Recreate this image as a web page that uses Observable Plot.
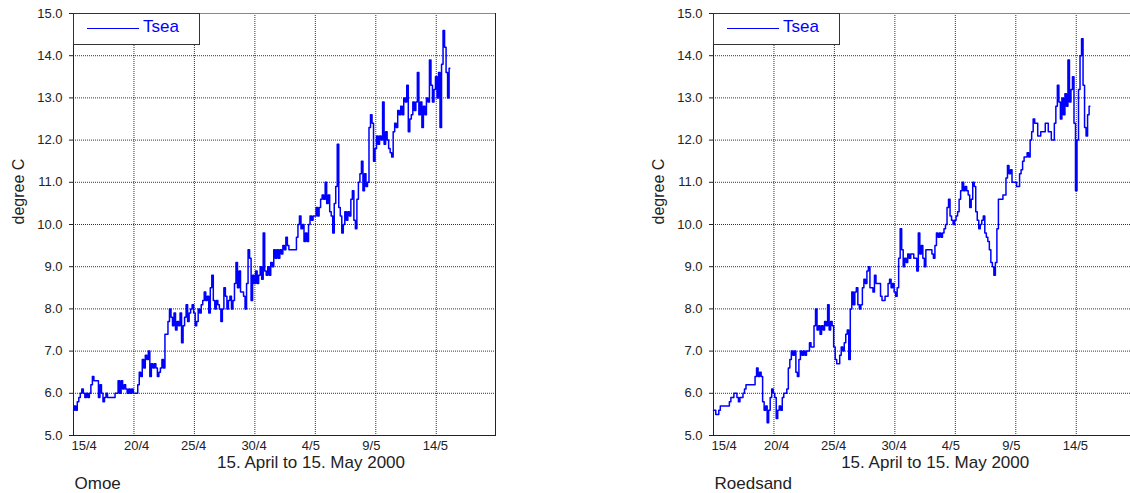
<!DOCTYPE html>
<html><head><meta charset="utf-8">
<script src="https://cdn.jsdelivr.net/npm/d3@7"></script>
<script src="https://cdn.jsdelivr.net/npm/@observablehq/plot@0.6"></script>
<style>
html,body{margin:0;padding:0;background:#fff;overflow:hidden;width:1130px;height:493px}
.panel{position:absolute;top:0;height:493px}
.panel svg{max-width:none !important}
.legend{position:absolute;box-sizing:border-box;background:#fff;border:1px solid #333;width:127px;height:32px;top:13px}
.legend .ln{position:absolute;left:13px;top:14px;width:52px;border-top:1px solid #0000ff}
.legend .tx{position:absolute;left:69px;top:3px;font:17px 'Liberation Sans',Arial,sans-serif;line-height:20px;color:#0000ff}
</style></head><body>
<div id="p0" class="panel" style="left:0;width:565px"></div>
<div id="p1" class="panel" style="left:565px;width:575px"></div>
<script>
// ---- data (3-hourly samples from 15/4 00:00) ----
const sampleHours = 3;
const stations = ["Omoe", "Roedsand"];
const seriesName = "Tsea";
const yTitle = "degree C";
const xAxisTitle = "15. April to 15. May 2000";
const xTickDays = [0, 5, 10, 15, 20, 25, 30];
const xTickLabels = ["15/4", "20/4", "25/4", "30/4", "4/5", "9/5", "14/5"];
const yTicks = [5, 6, 7, 8, 9, 10, 11, 12, 13, 14, 15];

const omoeTemp = [
  5.6, 5.7, 5.6, 5.8, 5.9, 6.0, 6.1, 6.0,
  5.9, 6.0, 5.9, 6.0, 6.2, 6.4, 6.3, 6.3,
  6.3, 5.9, 6.2, 6.0, 5.8, 5.9, 6.0, 5.9,
  5.9, 5.9, 5.9, 5.9, 6.0, 6.0, 6.3, 6.0,
  6.3, 6.1, 6.2, 6.1, 6.0, 6.1, 6.0, 6.1,
  6.0, 6.0, 6.0, 6.2, 6.5, 6.4, 6.8, 6.6,
  6.9, 6.8, 7.0, 6.4, 6.7, 6.6, 6.7, 6.6,
  6.4, 6.5, 6.6, 6.8, 6.6, 7.4, 7.4, 7.7,
  8.0, 7.8, 7.6, 7.9, 7.5, 7.7, 7.6, 7.9,
  7.2, 7.6, 7.8, 8.1, 7.7, 7.9, 8.0, 8.1,
  7.9, 7.6, 7.7, 8.0, 7.9, 8.1, 8.2, 8.4,
  8.2, 8.3, 7.9, 8.5, 8.8, 8.2, 8.0, 8.2,
  8.1, 8.0, 7.7, 8.0, 8.5, 8.3, 8.0, 8.2,
  8.3, 8.0, 8.2, 8.6, 9.1, 8.5, 8.9, 8.4,
  8.4, 8.3, 8.0, 8.6, 9.4, 9.2, 8.2, 8.8,
  8.6, 8.9, 8.6, 8.8, 9.0, 8.7, 9.8, 8.9,
  8.8, 9.0, 8.8, 9.1, 9.0, 9.4, 9.2, 9.4,
  9.2, 9.4, 9.3, 9.5, 9.4, 9.7, 9.5, 9.4,
  9.4, 9.4, 9.4, 9.4, 9.7, 10.0, 10.2, 9.9,
  10.0, 9.6, 9.8, 9.6, 10.0, 10.2, 10.1, 10.2,
  10.2, 10.4, 10.2, 10.4, 10.6, 10.7, 10.6, 11.0,
  10.5, 10.7, 10.3, 10.2, 9.8, 10.5, 10.9, 11.9,
  10.4, 10.2, 9.8, 10.0, 10.3, 10.1, 10.3, 10.2,
  10.6, 10.8, 10.1, 9.9, 10.6, 11.0, 11.2, 11.5,
  10.8, 11.2, 10.9, 11.0, 12.3, 12.6, 12.4, 11.5,
  11.8, 12.1, 11.9, 12.1, 12.0, 12.9, 11.9, 12.2,
  12.0, 11.8, 11.7, 11.6, 12.2, 12.4, 12.3, 12.7,
  12.6, 12.8, 12.6, 13.0, 12.9, 13.3, 12.2, 12.5,
  12.6, 12.9, 12.7, 12.9, 13.6, 12.6, 12.9, 12.3,
  12.8, 12.6, 13.0, 12.9, 13.9, 13.3, 12.9, 13.2,
  13.5, 13.0, 13.6, 12.3, 13.8, 14.6, 14.2, 13.6,
  13.0, 13.7
];

const roedsandTemp = [
  5.6, 5.6, 5.5, 5.5, 5.6, 5.7, 5.7, 5.7,
  5.7, 5.7, 5.7, 5.8, 5.9, 5.9, 6.0, 6.0,
  5.9, 5.8, 5.9, 5.9, 6.0, 6.1, 6.2, 6.2,
  6.2, 6.2, 6.2, 6.2, 6.4, 6.6, 6.4, 6.5,
  6.4, 5.8, 5.6, 5.7, 5.3, 5.6, 5.9, 6.1,
  6.0, 5.9, 5.4, 5.6, 5.7, 5.6, 5.9, 6.0,
  6.0, 6.1, 6.6, 6.8, 7.0, 6.9, 7.0, 6.5,
  6.4, 6.8, 7.0, 6.9, 7.0, 6.9, 7.0, 7.0,
  7.2, 7.1, 7.1, 7.6, 8.0, 7.5, 7.6, 7.4,
  7.6, 7.5, 7.7, 7.6, 8.1, 7.5, 7.7, 7.6,
  7.1, 6.8, 6.7, 6.7, 6.9, 7.1, 7.0, 7.2,
  7.4, 7.5, 6.8, 8.0, 8.4, 8.1, 8.4, 8.5,
  8.1, 8.0, 8.1, 8.5, 8.7, 8.6, 8.9, 9.0,
  8.5, 8.5, 8.4, 8.8, 8.6, 8.6, 8.6, 8.3,
  8.2, 8.2, 8.3, 8.3, 8.6, 8.7, 8.5, 8.6,
  8.4, 8.3, 8.5, 9.2, 9.9, 9.4, 9.0, 9.2,
  9.1, 9.3, 9.2, 9.3, 9.3, 9.2, 9.2, 8.9,
  9.8, 9.3, 9.5, 9.2, 9.0, 9.4, 9.4, 9.4,
  9.4, 9.3, 9.2, 9.5, 9.8, 9.7, 9.8, 9.7,
  9.8, 9.9, 10.0, 10.4, 10.6, 10.2, 10.1, 10.0,
  10.1, 10.2, 10.3, 10.6, 10.8, 11.0, 10.8, 10.9,
  10.8, 10.7, 10.4, 10.6, 11.0, 10.9, 10.3, 10.1,
  9.9, 10.0, 10.1, 10.2, 9.8, 9.7, 9.6, 9.4,
  9.1, 9.0, 8.8, 9.1, 9.9, 10.6, 10.6, 10.6,
  10.7, 10.7, 11.1, 11.4, 11.2, 11.3, 11.0, 11.0,
  11.0, 10.9, 10.9, 11.2, 11.3, 11.5, 11.6, 11.6,
  11.7, 11.6, 12.0, 12.2, 12.5, 12.4, 12.4, 12.1,
  12.1, 12.2, 12.2, 12.2, 12.4, 12.4, 12.2, 12.2,
  12.0, 12.0, 12.4, 12.8, 13.3, 12.9, 12.5, 13.0,
  12.6, 13.1, 12.8, 13.9, 12.9, 13.2, 13.5, 12.4,
  10.8, 12.0, 13.2, 14.0, 14.4, 13.3, 12.3, 12.1,
  12.6, 12.8
];

// ---- drawing ----
const FONT = "'Liberation Sans', Arial, sans-serif";
const gridStyle = {stroke: "#000", strokeOpacity: 0.8, strokeDasharray: "1,1"};

function drawPanel(el, temps, station, o) {
  const data = temps.map((v, i) => ({t: i * sampleHours / 24, v}));
  const ticks = xTickDays.map((d, i) => ({d, label: xTickLabels[i], i}));
  const chart = Plot.plot({
    width: o.width, height: 493,
    marginLeft: o.marginLeft, marginRight: o.marginRight, marginTop: 13, marginBottom: 58,
    style: {fontFamily: FONT, background: "#fff", color: "#222", overflow: "visible", maxWidth: "none"},
    x: {domain: [0, 34.9], axis: null},
    y: {domain: [5, 15], axis: null},
    marks: [
      Plot.gridX(xTickDays.slice(1), gridStyle),
      Plot.gridY(yTicks.slice(1, -1), gridStyle),
      Plot.frame({stroke: "#222"}),
      Plot.ruleY([15], {stroke: "#888"}),
      Plot.axisY(yTicks, {tickFormat: d => d.toFixed(1), tickSize: 4, tickPadding: 7, fontSize: 13, label: null}),
      Plot.line(data, {x: "t", y: "v", stroke: "#0000ff", strokeWidth: 1.5, curve: "step"}),
      Plot.text(ticks.filter(k => k.i === 0), {x: "d", text: "label", frameAnchor: "bottom", textAnchor: "start", dx: -2, dy: 14, fontSize: 13}),
      Plot.text(ticks.filter(k => k.i === 1), {x: "d", text: "label", frameAnchor: "bottom", textAnchor: "start", dx: -10, dy: 14, fontSize: 13}),
      Plot.text(ticks.filter(k => k.i > 1), {x: "d", text: "label", frameAnchor: "bottom", textAnchor: "start", dx: -13.5, dy: 14, fontSize: 13}),
      Plot.text([xAxisTitle], {frameAnchor: "bottom", dx: o.titleDx, dy: 32, fontSize: 17}),
      Plot.text([station], {frameAnchor: "bottom-left", textAnchor: "start", dx: 1, dy: 53, fontSize: 17}),
      Plot.text([yTitle], {frameAnchor: "left", rotate: -90, dx: -55, fontSize: 16})
    ]
  });
  el.appendChild(chart);
  const lg = document.createElement("div");
  lg.className = "legend";
  lg.style.left = o.marginLeft + "px";
  lg.innerHTML = '<div class="ln"></div><div class="tx"></div>';
  lg.querySelector(".tx").textContent = seriesName;
  el.appendChild(lg);
}

drawPanel(document.getElementById("p0"), omoeTemp, stations[0], {width: 565, marginLeft: 73, marginRight: 70, titleDx: 26.5});
drawPanel(document.getElementById("p1"), roedsandTemp, stations[1], {width: 575, marginLeft: 148, marginRight: 5, titleDx: 10.7});
</script></body></html>
